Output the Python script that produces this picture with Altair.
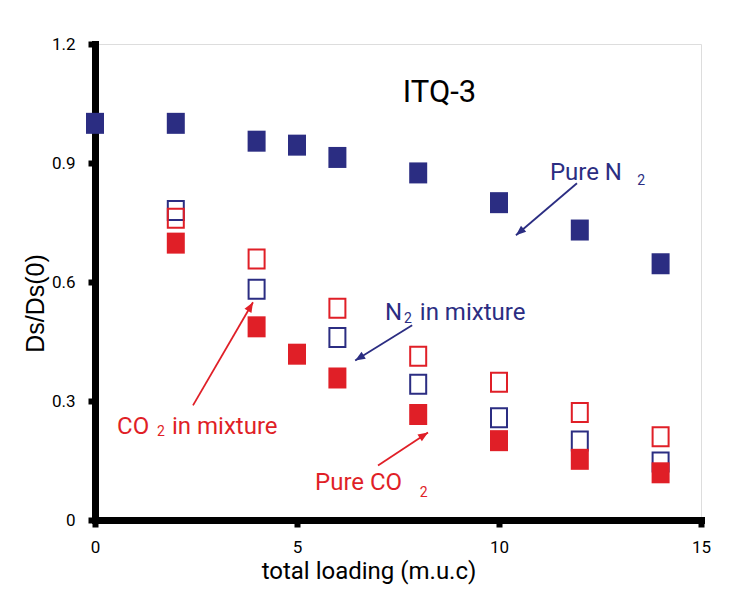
import math
import altair as alt
import pandas as pd

# ---- data ----
loading_pure_n2 = [0, 2, 4, 5, 6, 8, 10, 12, 14]
ds_pure_n2 = [1.00, 1.00, 0.955, 0.945, 0.914, 0.875, 0.80, 0.731, 0.646]

loading_pure_co2 = [2, 4, 5, 6, 8, 10, 12, 14]
ds_pure_co2 = [0.698, 0.487, 0.418, 0.358, 0.266, 0.20, 0.153, 0.119]

loading_mix = [2, 4, 6, 8, 10, 12, 14]
ds_n2_mix = [0.78, 0.582, 0.46, 0.342, 0.258, 0.199, 0.146]
ds_co2_mix = [0.761, 0.658, 0.534, 0.413, 0.347, 0.271, 0.21]

x_ticks = [0, 5, 10, 15]
y_ticks = [0, 0.3, 0.6, 0.9, 1.2]

# annotations (text, anchor in data coordinates)
ann_text = ["ITQ-3", "Pure N", "2", "N", "2", "in mixture", "CO", "2", "in mixture", "Pure CO", "2"]
ann_x = [7.62, 11.26, 13.42, 7.18, 7.65, 8.04, 0.545, 1.535, 1.906, 5.446, 8.04]
ann_y = [1.054, 0.857, 0.844, 0.503, 0.496, 0.503, 0.218, 0.213, 0.218, 0.0744, 0.0568]
ann_group = ["title", "n2", "n2sub", "n2", "n2sub", "n2", "co2", "co2sub", "co2", "co2", "co2sub"]

arrow_x = [11.93, 7.85, 2.426, 7.005]
arrow_y = [0.849, 0.491, 0.289, 0.1375]
arrow_x2 = [10.42, 6.44, 3.911, 8.243]
arrow_y2 = [0.718, 0.402, 0.549, 0.2208]
arrow_group = ["n2", "n2", "co2", "co2"]

# ---- styles ----
NAVY = "#2b2d82"
RED = "#e01f27"
FONT = "Roboto"
W, H = 606, 476
X_MAX, Y_MAX = 15, 1.2

group_color = {"title": "black", "n2": NAVY, "n2sub": NAVY, "co2": RED, "co2sub": RED}
group_size = {"title": 31, "n2": 24, "n2sub": 14, "co2": 24, "co2sub": 14}

xs = alt.Scale(domain=[0, X_MAX], nice=False, zero=False)
ys = alt.Scale(domain=[0, Y_MAX], nice=False, zero=False)

x_axis = alt.Axis(
    values=x_ticks, format="d", title="total loading (m.u.c)", grid=False,
    domainColor="black", domainWidth=7, domainCap="square",
    tickColor="black", tickWidth=6, tickSize=7,
    labelFont=FONT, labelFontSize=17, labelColor="black", labelPadding=12,
    labelFlush=False, labelOverlap=False,
    titleFont=FONT, titleFontSize=24, titleFontWeight="normal", titleColor="black",
    titleX=273.5, titleY=58.5, titleBaseline="alphabetic", titleAlign="center", zindex=0,
)
y_axis = alt.Axis(
    values=y_ticks, format="~g", title="Ds/Ds(0)", grid=False,
    domainColor="black", domainWidth=7, domainCap="square",
    tickColor="black", tickWidth=6, tickSize=7,
    labelFont=FONT, labelFontSize=17, labelColor="black", labelPadding=13,
    labelFlush=False, labelOverlap=False,
    titleFont="Liberation Sans", titleFontSize=25, titleFontWeight="normal", titleColor="black",
    titleX=-52, titleY=259, titleAngle=270, titleBaseline="alphabetic", titleAlign="center", zindex=0,
)

RECT_FILLED = "M-0.857,-1H0.857V1H-0.857Z"
RECT_OPEN = "M-0.842,-1H0.842V1H-0.842Z"
ARROW_HEAD = "M0,0L-0.8,2L0.8,2Z"

df_pure_n2 = pd.DataFrame({"loading": loading_pure_n2, "ds": ds_pure_n2})
df_pure_co2 = pd.DataFrame({"loading": loading_pure_co2, "ds": ds_pure_co2})
df_n2_mix = pd.DataFrame({"loading": loading_mix, "ds": ds_n2_mix})
df_co2_mix = pd.DataFrame({"loading": loading_mix, "ds": ds_co2_mix})


def points(df, color, filled):
    if filled:
        m = alt.Chart(df).mark_point(shape=RECT_FILLED, size=441, filled=True,
                                     fill=color, opacity=1, strokeWidth=0)
    else:
        m = alt.Chart(df).mark_point(shape=RECT_OPEN, size=361, filled=False,
                                     stroke=color, strokeWidth=2, opacity=1)
    return m.encode(x=alt.X("loading:Q", scale=xs, axis=x_axis),
                    y=alt.Y("ds:Q", scale=ys, axis=y_axis))


df_ann = pd.DataFrame({"text": ann_text, "x": ann_x, "y": ann_y, "group": ann_group})
df_ann["color"] = df_ann["group"].map(group_color)
df_ann["fs"] = df_ann["group"].map(group_size)

texts = alt.Chart(df_ann).mark_text(font=FONT, align="left", baseline="alphabetic").encode(
    x=alt.X("x:Q", scale=xs), y=alt.Y("y:Q", scale=ys),
    text="text:N", color=alt.Color("color:N", scale=None),
    size=alt.Size("fs:Q", scale=None),
)

df_arr = pd.DataFrame({"x": arrow_x, "y": arrow_y, "x2": arrow_x2, "y2": arrow_y2, "group": arrow_group})
df_arr["color"] = df_arr["group"].map(group_color)
px_x, px_y = W / X_MAX, H / Y_MAX
df_arr["angle"] = [
    math.degrees(math.atan2((b - a) * px_x, (d - c) * px_y)) % 360
    for a, b, c, d in zip(df_arr["x"], df_arr["x2"], df_arr["y"], df_arr["y2"])
]

arrow_lines = alt.Chart(df_arr).mark_rule(strokeWidth=1.8).encode(
    x=alt.X("x:Q", scale=xs), y=alt.Y("y:Q", scale=ys),
    x2="x2:Q", y2="y2:Q", color=alt.Color("color:N", scale=None),
)
arrow_heads = alt.Chart(df_arr).mark_point(shape=ARROW_HEAD, size=100, filled=True, opacity=1, strokeWidth=0).encode(
    x=alt.X("x2:Q", scale=xs), y=alt.Y("y2:Q", scale=ys),
    fill=alt.Fill("color:N", scale=None), angle=alt.Angle("angle:Q", scale=None),
)

chart = alt.layer(
    points(df_n2_mix, NAVY, False),
    points(df_co2_mix, RED, False),
    points(df_pure_co2, RED, True),
    points(df_pure_n2, NAVY, True),
    arrow_lines,
    arrow_heads,
    texts,
).properties(
    width=W, height=H,
    autosize=alt.AutoSizeParams(type="none"),
    padding={"left": 87, "top": 36, "right": 20, "bottom": 70},
).configure_view(stroke=None).configure(background="white")

chart.save("out.html", embed_options={"renderer": "svg", "actions": False})
